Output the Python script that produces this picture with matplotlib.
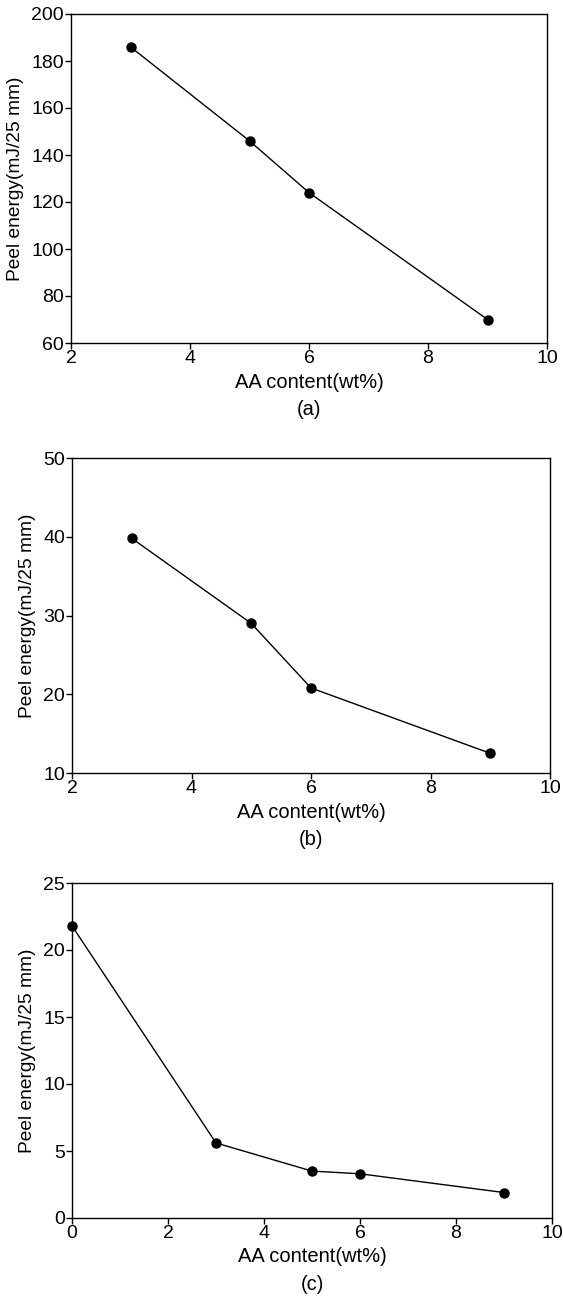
import matplotlib
matplotlib.use("Agg")
import matplotlib.pyplot as plt

plt.rcParams['font.family'] = ['Liberation Sans', 'DejaVu Sans']

x_a = [3, 5, 6, 9]
y_a = [186, 146, 124, 70]
x_b = [3, 5, 6, 9]
y_b = [39.8, 29.0, 20.8, 12.5]
x_c = [0, 3, 5, 6, 9]
y_c = [21.8, 5.6, 3.5, 3.3, 1.9]

W, H = 563, 1298
fig = plt.figure(figsize=(W / 100, H / 100), dpi=100)

def add_ax(l, t, r, b):
    return fig.add_axes([l / W, 1 - b / H, (r - l) / W, (b - t) / H])

panels = [
    (add_ax(71, 14, 547, 343), x_a, y_a, (2, 10), [2, 4, 6, 8, 10], (60, 200), [60, 80, 100, 120, 140, 160, 180, 200], "(a)"),
    (add_ax(72, 458, 550, 773), x_b, y_b, (2, 10), [2, 4, 6, 8, 10], (10, 50), [10, 20, 30, 40, 50], "(b)"),
    (add_ax(72, 883, 552, 1218), x_c, y_c, (0, 10), [0, 2, 4, 6, 8, 10], (0, 25), [0, 5, 10, 15, 20, 25], "(c)"),
]

for ax, xs, ys, xl, xt, yl, yt, tag in panels:
    ax.plot(xs, ys, color='black', lw=1.0, marker='o', ms=6.5, clip_on=False)
    ax.set_xlim(*xl)
    ax.set_ylim(*yl)
    ax.set_xticks(xt)
    ax.set_yticks(yt)
    ax.tick_params(direction='out', length=4, width=1, labelsize=14, pad=1, top=False, right=False)
    for s in ax.spines.values():
        s.set_linewidth(1.0)
    ax.set_ylabel("Peel energy(mJ/25 mm)", fontsize=13.8, labelpad=5)
    ax.set_xlabel("AA content(wt%)" + "\n" + tag, fontsize=14.5, labelpad=4, linespacing=1.55)

fig.savefig("out.png", dpi=100, facecolor='white')
